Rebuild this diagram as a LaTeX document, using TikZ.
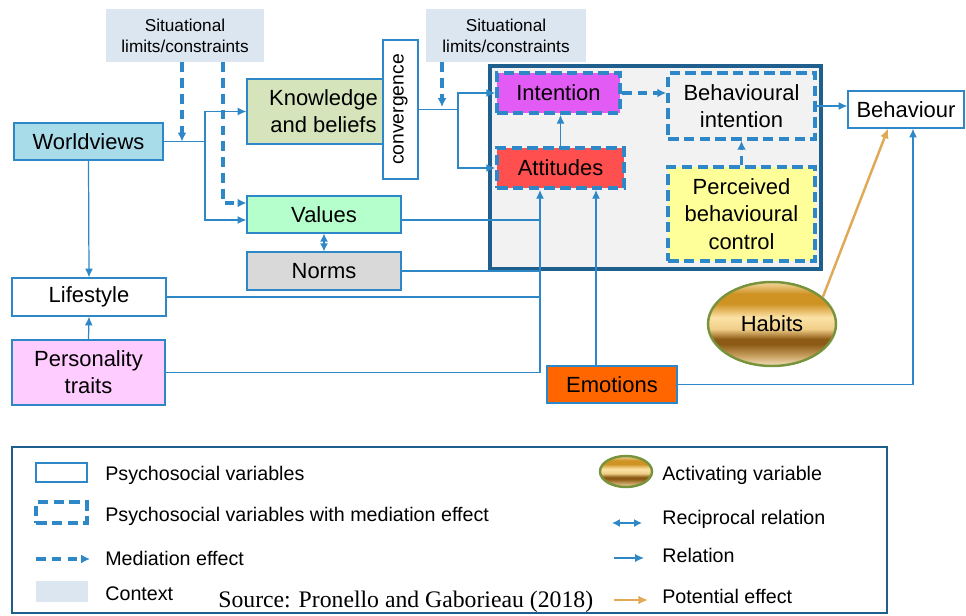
\documentclass[tikz,border=0pt]{standalone}
\usepackage{fontspec}
\setmainfont{Liberation Sans}
\newfontfamily\srcfont{Liberation Serif}
\usepackage{tikz}
\usetikzlibrary{shapes,arrows,arrows.meta}
\usepackage{xcolor}

\definecolor{linkblue}{HTML}{2E88C8}
\definecolor{tpbblue}{HTML}{1F5F8E}
\definecolor{tpbgrey}{HTML}{F2F2F2}
\definecolor{ctxblue}{HTML}{DCE6F1}
\definecolor{worldfill}{HTML}{A8DCE9}
\definecolor{knowfill}{HTML}{D6E4BC}
\definecolor{valfill}{HTML}{B4FFCC}
\definecolor{normfill}{HTML}{D9D9D9}
\definecolor{persfill}{HTML}{FFCCFF}
\definecolor{intfill}{HTML}{E35BF5}
\definecolor{attfill}{HTML}{FF4F4F}
\definecolor{pbcfill}{HTML}{FFFF99}
\definecolor{emofill}{HTML}{FF6600}
\definecolor{habgreen}{HTML}{77933C}
\definecolor{potgold}{HTML}{E0A955}
\definecolor{hb1}{HTML}{F5E3BE}
\definecolor{hb2}{HTML}{C9A060}
\definecolor{hb3}{HTML}{8C5A14}
\definecolor{hb4}{HTML}{F0CE88}
\definecolor{hb5}{HTML}{FCE2A6}
\definecolor{hb6}{HTML}{CF9324}
\definecolor{hb7}{HTML}{F2D8A0}

\pgfdeclareverticalshading{goldband}{100bp}{color(0bp)=(hb1); color(25bp)=(hb1); color(31bp)=(hb2); color(38bp)=(hb3); color(41bp)=(hb3); color(47bp)=(hb4); color(54bp)=(hb5); color(62bp)=(hb6); color(68bp)=(hb6); color(75bp)=(hb7); color(100bp)=(hb7)}

\newcommand{\mainsize}{\fontsize{12.5}{15.5}\selectfont}
\newcommand{\sitsize}{\fontsize{9.8}{12}\selectfont}
\newcommand{\convsize}{\fontsize{11}{13}\selectfont}
\newcommand{\legsize}{\fontsize{11.2}{13}\selectfont}

\tikzstyle{psvar} = [rectangle, draw=linkblue, line width=0.7pt, inner sep=0pt, text centered, align=center, font=\mainsize]
\tikzstyle{mediator} = [rectangle, draw=linkblue, line width=2.1pt, dash pattern=on 6pt off 3pt, inner sep=0pt, text centered, align=center, font=\mainsize]
\tikzstyle{context} = [rectangle, fill=ctxblue, inner sep=0pt, text centered, align=center, font=\sitsize]
\tikzstyle{activ} = [ellipse, draw=habgreen, line width=1.4pt, shading=goldband, inner sep=0pt, font=\mainsize]
\tikzstyle{arrow} = [line width=0.7pt, draw=linkblue, ->, >={Latex[length=5pt,width=4.5pt]}]
\tikzstyle{plainline} = [line width=0.7pt, draw=linkblue]
\tikzstyle{dasharrow} = [line width=2pt, draw=linkblue, dash pattern=on 5.5pt off 3.5pt, ->, >={Latex[length=5pt,width=5pt]}]
\tikzstyle{twoway} = [line width=0.7pt, draw=linkblue, <->, >={Latex[length=4.5pt,width=4.5pt]}]
\tikzstyle{potarrow} = [line width=1.4pt, draw=potgold, ->, >={Latex[length=5.5pt,width=5pt]}]
\tikzstyle{legtext} = [anchor=west, inner sep=0pt, font=\legsize]

\begin{document}
\begin{tikzpicture}[x=0.02cm, y=-0.02cm]
    \useasboundingbox (0,0) rectangle (966,615);

    \node (sit1) [context, minimum width=3.16cm, minimum height=1.06cm] at (185,35.5) {Situational\\limits/constraints};
    \node (sit2) [context, minimum width=3.2cm, minimum height=1.06cm] at (506,35.5) {Situational\\limits/constraints};

    \node (world) [psvar, fill=worldfill, minimum width=2.98cm, minimum height=0.74cm] at (88.5,141.5) {Worldviews};
    \node (know) [psvar, fill=knowfill, minimum width=3.06cm, minimum height=1.3cm] at (323.5,111.5) {Knowledge\\and beliefs};
    \node (conv) [psvar, fill=white, minimum width=0.7cm, minimum height=2.78cm, font=\convsize] at (400.5,109.5) {\rotatebox{90}{convergence}};
    \node (values) [psvar, fill=valfill, minimum width=3.08cm, minimum height=0.74cm] at (324,214.5) {Values};
    \node (norms) [psvar, fill=normfill, minimum width=3.08cm, minimum height=0.76cm] at (324,271) {Norms};
    \node (life) [psvar, fill=white, minimum width=3.08cm, minimum height=0.76cm] at (89,297) {Lifestyle};
    \node (pers) [psvar, fill=persfill, minimum width=3.06cm, minimum height=1.3cm] at (88.5,372.5) {Personality\\traits};

    \node (tpb) [rectangle, draw=tpbblue, line width=1.8pt, fill=tpbgrey, minimum width=6.62cm, minimum height=4.06cm] at (655.5,167.5) {};
    \node (intent) [mediator, fill=intfill, minimum width=2.46cm, minimum height=0.8cm] at (558.5,93) {Intention};
    \node (att) [mediator, fill=attfill, minimum width=2.54cm, minimum height=0.8cm] at (560.5,168) {Attitudes};
    \node (bint) [mediator, minimum width=2.94cm, minimum height=1.32cm] at (741.5,106) {Behavioural\\intention};
    \node (pbc) [mediator, fill=pbcfill, minimum width=2.94cm, minimum height=1.88cm] at (741.5,214) {Perceived\\behavioural\\control};

    \node (behav) [psvar, fill=white, minimum width=2.32cm, minimum height=0.74cm] at (906,109.5) {Behaviour};
    \node (emo) [psvar, fill=emofill, minimum width=2.6cm, minimum height=0.74cm] at (612,384.5) {Emotions};
    \node (habits) [activ, minimum width=2.56cm, minimum height=1.68cm] at (772,324) {Habits};

    \coordinate (wj) at (205,141.5);
    \coordinate (cj) at (458,109.5);
    \coordinate (attin) at ([xshift=-0.41cm]att.south);
    \coordinate (emoin) at ([xshift=0.71cm]att.south);

    \draw [plainline] (world.east) -- (wj);
    \draw [arrow] (wj) |- (know.west);
    \draw [arrow] (wj) |- ([yshift=-0.11cm]values.west);
    \draw [arrow] (world.south) -- (life.north);
    \draw [arrow] (pers.north) -- (life.south);
    \draw [dasharrow] ([xshift=-0.06cm]sit1.south) -- ([xshift=-0.06cm]sit1.south |- world.east);
    \draw [dasharrow] ([xshift=0.76cm]sit1.south) |- ([yshift=0.23cm]values.west);
    \draw [twoway] (values.south) -- (norms.north);

    \draw [plainline] (conv.east) -- (cj);
    \draw [dasharrow] ([xshift=-1.28cm]sit2.south) -- ([xshift=-1.28cm,yshift=0.05cm]sit2.south |- conv.east);
    \draw [arrow] (cj) |- (intent.west);
    \draw [arrow] (cj) |- (att.west);
    \draw [arrow] (att.north) -- (att.north |- intent.south);
    \draw [dasharrow] (intent.east) -- (bint.west |- intent.east);
    \draw [dasharrow] (pbc.north) -- (bint.south);
    \draw [arrow] (bint.east) -- (bint.east -| behav.west);

    \draw [arrow] (pers.east) -| (attin);
    \draw [plainline] (life.east) -- (life.east -| attin);
    \draw [plainline] (norms.east) -- (norms.east -| attin);
    \draw [plainline] ([yshift=-0.11cm]values.east) -- ([yshift=-0.11cm]values.east -| attin);
    \draw [arrow] (emo.north -| emoin) -- (emoin);
    \draw [arrow] (emo.east) -| ([xshift=0.14cm]behav.south);
    \draw [potarrow] (habits.28) -- ([xshift=-0.36cm]behav.south);

    % legend
    \node (legend) [rectangle, draw=tpbblue, line width=1.5pt, minimum width=17.5cm, minimum height=3.32cm] at (449.5,530) {};
    \node (keyvar) [psvar, fill=white, minimum width=1.02cm, minimum height=0.38cm] at (61.5,472.5) {};
    \node (keymed) [mediator, minimum width=1.02cm, minimum height=0.42cm] at (61.5,512.5) {};
    \node (keyctx) [context, minimum width=1.04cm, minimum height=0.42cm] at (62,591.5) {};
    \node (keyhab) [activ, minimum width=1.04cm, minimum height=0.62cm] at (626,471.5) {};
    \coordinate (medA) at (36,559);
    \coordinate (medB) at (90,559);
    \coordinate (recA) at (612,523);
    \coordinate (recB) at (642,523);
    \coordinate (relA) at (614,558);
    \coordinate (relB) at (644,558);
    \coordinate (potA) at (614,600);
    \coordinate (potB) at (648,600);
    \draw [dasharrow] (medA) -- (medB);
    \draw [twoway] (recA) -- (recB);
    \draw [arrow] (relA) -- (relB);
    \draw [potarrow] (potA) -- (potB);

    \node (lab1) [legtext] at (105,475) {Psychosocial variables};
    \node (lab2) [legtext] at (105,516) {Psychosocial variables with mediation effect};
    \node (lab3) [legtext] at (105,558) {Mediation effect};
    \node (lab4) [legtext] at (105,594) {Context};
    \node (lab5) [legtext] at (662,475) {Activating variable};
    \node (lab6) [legtext] at (662,519) {Reciprocal relation};
    \node (lab7) [legtext] at (662,555) {Relation};
    \node (lab8) [legtext] at (662,596) {Potential effect};
    \node (source) [anchor=base west, inner sep=0pt, font=\srcfont\fontsize{13.5}{15}\selectfont] at (218,607) {Source: Pronello and Gaborieau (2018)};
\end{tikzpicture}
\end{document}
